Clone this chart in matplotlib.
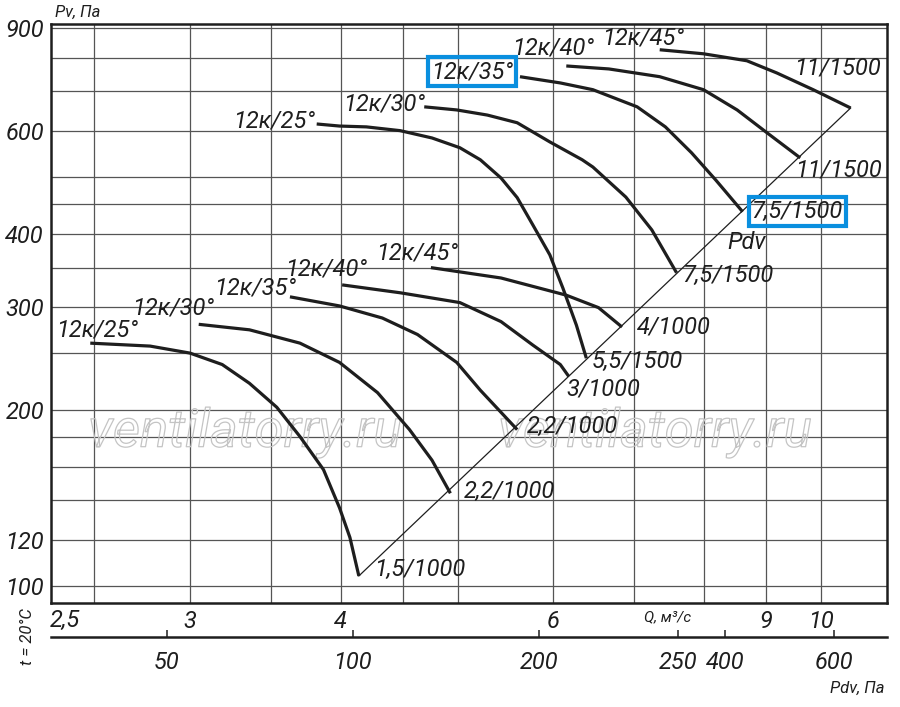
import matplotlib
matplotlib.use("Agg")
import matplotlib.pyplot as plt
import matplotlib.patheffects as pe

plt.rcParams['font.family'] = ['Roboto', 'DejaVu Sans']
plt.rcParams['font.style'] = 'italic'

# --- fan curves, Q in m3/s, Pv in Pa ---
# lower group (1000 rpm)
q_a = [2.48, 2.78, 3.00, 3.19, 3.36, 3.54, 3.70, 3.87, 3.99, 4.07, 4.14]
p_a = [260, 257, 250, 239, 222, 202, 180, 158, 136, 121, 104]

q_b = [3.05, 3.36, 3.70, 3.99, 4.29, 4.56, 4.76, 4.93]
p_b = [280, 274, 260, 241, 214, 185, 164, 144]

q_c = [3.63, 3.99, 4.33, 4.63, 4.99, 5.22, 5.60]
p_c = [312, 301, 287, 269, 241, 216, 185]

q_d = [4.01, 4.48, 5.02, 5.43, 5.77, 6.08, 6.18]
p_d = [327, 317, 305, 283, 258, 239, 228]

q_e = [4.75, 5.43, 6.15, 6.54, 6.84]
p_e = [350, 336, 314, 299, 277]

# upper group (1500 rpm)
q_f = [3.82, 3.99, 4.20, 4.48, 4.76, 5.02, 5.22, 5.43, 5.60, 5.77, 5.96, 6.11, 6.27, 6.39]
p_f = [616, 611, 609, 600, 583, 561, 535, 498, 461, 414, 368, 323, 279, 245]

q_g = [4.69, 4.99, 5.29, 5.60, 5.96, 6.34, 6.47, 6.89, 7.24, 7.59]
p_g = [659, 651, 638, 619, 574, 535, 520, 462, 406, 343]

q_h = [5.63, 6.08, 6.47, 7.04, 7.43, 7.81, 8.18, 8.61]
p_h = [742, 724, 705, 659, 609, 550, 494, 436]

q_i = [6.15, 6.67, 7.35, 7.99, 8.52, 9.02, 9.61]
p_i = [774, 765, 742, 705, 651, 595, 539]

q_j = [7.35, 7.99, 8.68, 9.19, 9.85, 10.58]
p_j = [825, 812, 790, 753, 705, 656]

# dynamic pressure line
q_pdv = [4.14, 10.58]
p_pdv = [104, 656]

blade_labels = ['12к/25°', '12к/30°', '12к/35°', '12к/40°', '12к/45°',
                '12к/25°', '12к/30°', '12к/35°', '12к/40°', '12к/45°']
motor_labels = ['1,5/1000', '2,2/1000', '2,2/1000', '3/1000', '4/1000',
                '5,5/1500', '7,5/1500', '7,5/1500', '11/1500', '11/1500']

q_grid = [2.5, 3, 3.5, 4, 4.5, 5, 6, 7, 8, 9, 10]
q_tick_labels = ['', '3', '', '4', '', '', '6', '', '', '9', '10']
p_grid = [100, 120, 140, 160, 180, 200, 250, 300, 350, 400, 450, 500, 600, 700, 800, 900]
p_tick_labels = ['100', '120', '', '', '', '200', '', '300', '', '400', '', '', '600', '', '', '900']

pdv_ticks = [50, 100, 200, 336, 400, 600]
pdv_tick_labels = ['50', '100', '200', '250', '400', '600']

curves = [(q_a, p_a), (q_b, p_b), (q_c, p_c), (q_d, p_d), (q_e, p_e),
          (q_f, p_f), (q_g, p_g), (q_h, p_h), (q_i, p_i), (q_j, p_j)]

# label offsets in pixels (start label centre, end label left edge)
start_off = [(7, 13), (-26, 16), (-35, 9), (-16, 16), (-14, 15),
             (-43, 3), (-40, 3), (-48, 5), (-13, 18), (-17, 12)]
end_off = [(15, 6), (13, 2), (10, 3), (-2, -12), (15, 0),
           (5, -3), (6, -3), (9, 0), (-5, -12), (-57, 40)]
boxed_start = 7
boxed_end = 7

blue = '#0a8fdf'
ink = '#1e1e1e'

fig = plt.figure(figsize=(9, 7.07), dpi=100)
ax = fig.add_axes([51 / 900, 104 / 707, 836 / 900, 579 / 707])
ax.set_xscale('log')
ax.set_yscale('log')
ax.set_xlim(2.301, 11.34)
ax.set_ylim(93.5, 913)
ax.set_xticks(q_grid, labels=q_tick_labels)
ax.set_yticks(p_grid, labels=p_tick_labels)
ax.minorticks_off()
ax.tick_params(length=0, labelsize=17, pad=5, colors=ink)
ax.set_axisbelow(True)
ax.grid(True, color='#555555', lw=0.9)
for s in ax.spines.values():
    s.set_linewidth(1.8)
    s.set_color(ink)

ax.annotate('2,5', xy=(2.5, 0), xycoords=('data', 'axes fraction'),
            xytext=(-30, -6), textcoords='offset pixels',
            ha='center', va='top', fontsize=17, color=ink)

# watermark
for xw in (0.232, 0.7225):
    ax.text(xw, 0.295, 'ventilatorry.ru', transform=ax.transAxes, fontsize=38,
            ha='center', va='center', color='none', zorder=1,
            path_effects=[pe.Stroke(linewidth=0.9, foreground='#c4c4c4')])

ax.plot(q_pdv, p_pdv, color=ink, lw=0.9, zorder=3)

for k, (q, p) in enumerate(curves):
    ax.plot(q, p, color=ink, lw=2.3, solid_capstyle='butt', solid_joinstyle='round', zorder=4)
    box = dict(boxstyle='square,pad=0.12', fc='none', ec=blue, lw=3) if k == boxed_start else None
    ax.annotate(blade_labels[k], xy=(q[0], p[0]), xytext=start_off[k],
                textcoords='offset pixels', ha='center', va='center',
                fontsize=17, color=ink, bbox=box, zorder=5)
    box = dict(boxstyle='square,pad=0.12', fc='none', ec=blue, lw=3) if k == boxed_end else None
    ax.annotate(motor_labels[k], xy=(q[-1], p[-1]), xytext=end_off[k],
                textcoords='offset pixels', ha='left', va='center',
                fontsize=17, color=ink, bbox=box, zorder=5)

ax.text(8.67, 386, 'Pdv', fontsize=17, ha='center', va='center', color=ink)

# dynamic pressure scale below the chart
ax2 = fig.add_axes([51 / 900, 70 / 707, 836 / 900, 0.01])
ax2.set_xscale('log')
ax2.set_xlim(32.5, 731)
ax2.patch.set_visible(False)
for side in ('top', 'left', 'right'):
    ax2.spines[side].set_visible(False)
ax2.spines['bottom'].set_linewidth(1.8)
ax2.spines['bottom'].set_color(ink)
ax2.set_yticks([])
ax2.set_xticks(pdv_ticks, labels=pdv_tick_labels)
ax2.minorticks_off()
ax2.tick_params(axis='x', direction='in', length=5, width=1.1, pad=10,
                labelsize=17, colors=ink)

fig.text(55 / 900, 1 - 12 / 707, 'Pv, Па', fontsize=12, ha='left', va='center', color=ink)
fig.text(885 / 900, 1 - 688 / 707, 'Pdv, Па', fontsize=12, ha='right', va='center', color=ink)
fig.text(668 / 900, 1 - 617 / 707, 'Q, м³/с', fontsize=11, ha='center', va='center', color=ink)
fig.text(27 / 900, 1 - 637 / 707, 't = 20°C', fontsize=12, rotation=90,
         ha='center', va='center', color=ink)

fig.savefig('out.png', dpi=100)
